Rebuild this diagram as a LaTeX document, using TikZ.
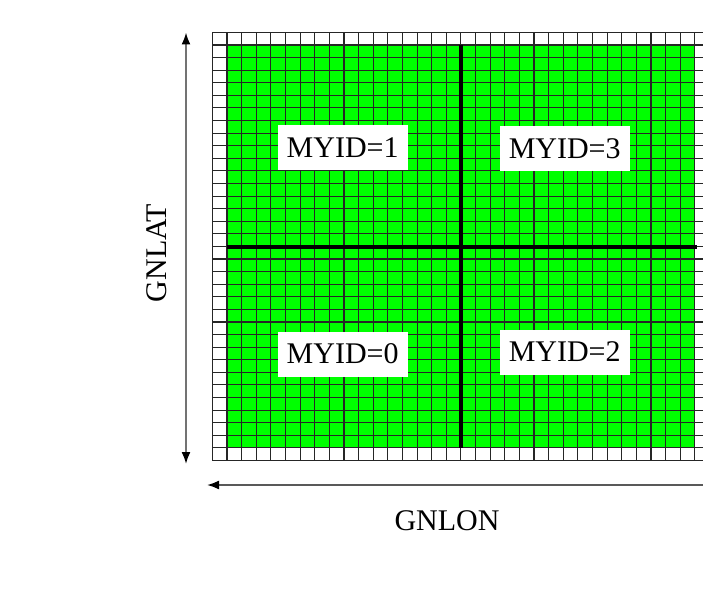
\documentclass[tikz,border=0pt]{standalone}
\usepackage{fontspec}
\setmainfont{Liberation Serif}
\usetikzlibrary{arrows.meta}
\tikzset{
  gridline/.style={draw=black!85, line width=1.1pt},
  axisline/.style={draw=black, line width=4pt},
  idbox/.style={fill=white, draw=none, minimum width=130pt, minimum height=45pt, inner sep=0pt, font=\fontsize{30}{34}\selectfont},
  axislabel/.style={font=\fontsize{30}{36}\selectfont, inner sep=0pt},
  dimarrow/.style={draw=black!65, line width=1.8pt, arrows={-Latex[black,length=12pt,width=9pt]}},
  dimarrows/.style={draw=black!55, line width=1.8pt, arrows={Latex[black,length=12pt,width=9pt]-Latex[black,length=12pt,width=9pt]}}
}
\begin{document}
\begin{tikzpicture}[x=1pt,y=-1pt]
\useasboundingbox[fill=white] (0,0) rectangle (703,593);
\begin{scope}
\clip (0,0) rectangle (703,593);
% green field
\fill[green] (227.0,45.0) rectangle (694.8,448.0);
% grid
\foreach \i in {0,...,34} {
  \draw[gridline] ({212.4+\i*14.62},32.4) -- ({212.4+\i*14.62},460.6);
}
\foreach \j in {0,...,34} {
  \draw[gridline] (212.4,{32.4+\j*12.59}) -- (709.5,{32.4+\j*12.59});
}
% processor boundaries
\draw[axisline] (460.6,45.0) -- (460.6,448.0);
\draw[axisline] (227.0,247.0) -- (697.0,247.0);
\end{scope}
% labels
\node[idbox] (id1) at (342.7,147.5) {MYID=1};
\node[idbox] (id3) at (564.7,149.0) {MYID=3};
\node[idbox] (id0) at (342.7,354.0) {MYID=0};
\node[idbox] (id2) at (564.7,352.0) {MYID=2};
% axes
\coordinate (lattop) at (186,32.5);
\coordinate (latbot) at (186,464);
\draw[dimarrows] (latbot) -- (lattop);
\node[axislabel, rotate=90] (gnlat) at (157,253) {GNLAT};
\coordinate (lonright) at (703,485);
\coordinate (lonleft) at (207,485);
\draw[dimarrow] (lonright) -- (lonleft);
\node[axislabel] (gnlon) at (447,521) {GNLON};
\end{tikzpicture}
\end{document}
